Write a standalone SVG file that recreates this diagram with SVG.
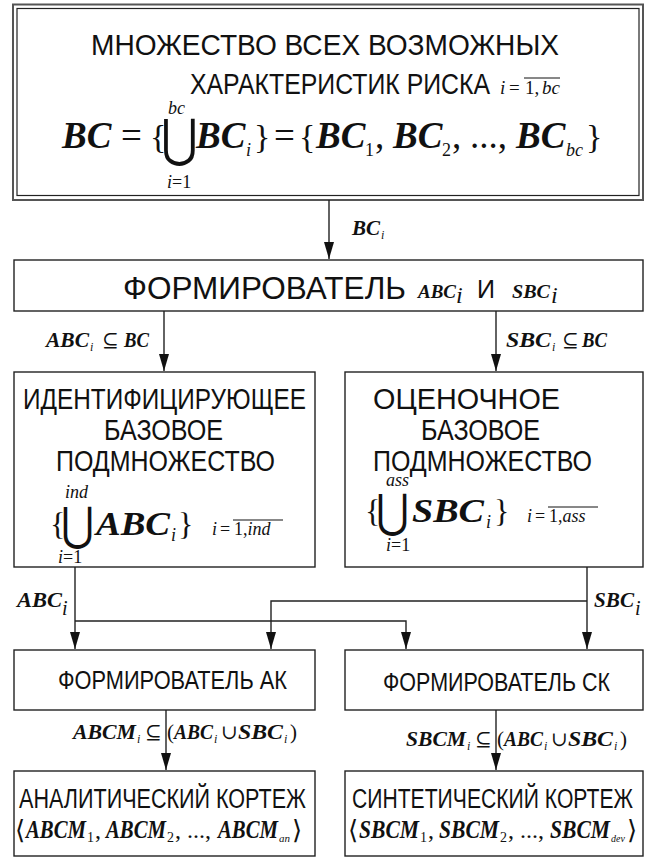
<svg xmlns="http://www.w3.org/2000/svg" width="650" height="861" viewBox="0 0 650 861">
  <style>
    .box { fill: #ffffff; stroke: #222222; stroke-width: 1.4; }
    .outer { fill: #ffffff; stroke: #555555; stroke-width: 2; }
    .inner { fill: none; stroke: #222222; stroke-width: 1.2; }
    .wire { fill: none; stroke: #222222; stroke-width: 1.4; }
    .sans { font-family: "Liberation Sans", Arial, sans-serif; fill: #111111; }
    .m { font-family: "Liberation Serif", "DejaVu Serif", serif; font-weight: bold; font-style: italic; fill: #111111; }
    .mi { font-family: "Liberation Serif", "DejaVu Serif", serif; font-weight: normal; font-style: italic; fill: #111111; }
    .mr { font-family: "Liberation Serif", "DejaVu Serif", serif; font-weight: normal; font-style: normal; fill: #111111; }
    .op { font-family: "DejaVu Serif", "Liberation Serif", serif; font-weight: normal; font-style: normal; fill: #111111; }
    .ovl { stroke: #111111; stroke-width: 1; }
  </style>
  <defs>
    <marker id="head" markerUnits="userSpaceOnUse" markerWidth="18" markerHeight="12" viewBox="0 0 18 12" refX="17" refY="6" orient="auto">
      <path d="M0,1 L17,6 L0,11 Z" fill="#111111"/>
    </marker>
  </defs>

  <!-- Set of all risk characteristics -->
  <g id="all-characteristics">
    <rect class="outer" x="13" y="4.5" width="630" height="195.5"/>
    <rect class="inner" x="17" y="8.5" width="622" height="187"/>
    <text class="sans" x="91" y="55" font-size="29" textLength="468" lengthAdjust="spacingAndGlyphs">МНОЖЕСТВО ВСЕХ ВОЗМОЖНЫХ</text>
    <text class="sans" x="190" y="94" font-size="29" textLength="300" lengthAdjust="spacingAndGlyphs">ХАРАКТЕРИСТИК РИСКА</text>
    <text class="mi" x="500" y="94" font-size="19">i</text>
    <text class="mr" x="509" y="94" font-size="19">=</text>
    <text class="mr" x="525" y="94" font-size="19">1,</text>
    <text class="mi" x="542" y="94" font-size="19">bc</text>
    <line class="ovl" x1="524" y1="78" x2="560" y2="78"/>
    <!-- BC = {U BC_i} = {BC_1, BC_2, ..., BC_bc} -->
    <text class="m" x="62" y="148" font-size="37">BC</text>
    <text class="mr" x="121" y="148" font-size="37">=</text>
    <text class="mr" x="150" y="148" font-size="34">{</text>
    <text class="op" transform="translate(161 156) scale(1.12 1.3)" font-size="40">⋃</text>
    <text class="mi" x="168" y="114" font-size="18">bc</text>
    <text class="mi" x="167" y="188" font-size="18">i<tspan class="mr">=1</tspan></text>
    <text class="m" x="196" y="148" font-size="37">BC</text>
    <text class="mi" x="246" y="156" font-size="18">i</text>
    <text class="mr" x="254" y="148" font-size="34">}</text>
    <text class="mr" x="274" y="148" font-size="37">=</text>
    <text class="mr" x="299" y="148" font-size="34">{</text>
    <text class="m" x="316" y="148" font-size="37">BC</text>
    <text class="mr" x="365" y="156" font-size="18">1</text>
    <text class="mr" x="375" y="148" font-size="37">,</text>
    <text class="m" x="393" y="148" font-size="37">BC</text>
    <text class="mr" x="442" y="156" font-size="18">2</text>
    <text class="mr" x="452" y="148" font-size="37">,</text>
    <text class="mr" x="470" y="148" font-size="37">...,</text>
    <text class="m" x="516" y="148" font-size="37">BC</text>
    <text class="mi" x="566" y="156" font-size="18">bc</text>
    <text class="mr" x="586" y="148" font-size="34">}</text>
  </g>

  <!-- Former of ABC_i and SBC_i -->
  <g id="former">
    <rect class="box" x="14" y="260" width="629" height="51"/>
    <text class="sans" x="123" y="299" font-size="31" textLength="283" lengthAdjust="spacingAndGlyphs">ФОРМИРОВАТЕЛЬ</text>
    <text class="m" x="418" y="298" font-size="18" textLength="38" lengthAdjust="spacingAndGlyphs">ABC</text>
    <text class="mi" x="456" y="303" font-size="24">i</text>
    <text class="sans" x="477" y="298" font-size="25">И</text>
    <text class="m" x="512" y="298" font-size="18" textLength="38" lengthAdjust="spacingAndGlyphs">SBC</text>
    <text class="mi" x="551" y="303" font-size="24">i</text>
  </g>

  <!-- Identifying base subset -->
  <g id="identifying-subset">
    <rect class="box" x="14" y="372" width="301" height="195"/>
    <text class="sans" x="23" y="409" font-size="29" textLength="283" lengthAdjust="spacingAndGlyphs">ИДЕНТИФИЦИРУЮЩЕЕ</text>
    <text class="sans" x="104" y="440" font-size="29" textLength="119" lengthAdjust="spacingAndGlyphs">БАЗОВОЕ</text>
    <text class="sans" x="56" y="471" font-size="29" textLength="219" lengthAdjust="spacingAndGlyphs">ПОДМНОЖЕСТВО</text>
    <text class="mi" x="65" y="498" font-size="18">ind</text>
    <text class="mr" x="50" y="535" font-size="32">{</text>
    <text class="op" transform="translate(61 540) scale(1.05 1.2)" font-size="38">⋃</text>
    <text class="m" x="96" y="535" font-size="34" textLength="74" lengthAdjust="spacingAndGlyphs">ABC</text>
    <text class="mi" x="171" y="541" font-size="18">i</text>
    <text class="mr" x="178" y="535" font-size="32">}</text>
    <text class="mi" x="212" y="535" font-size="18">i</text>
    <text class="mr" x="220" y="535" font-size="18">=</text>
    <text class="mr" x="234" y="535" font-size="18">1,<tspan class="mi">ind</tspan></text>
    <line class="ovl" x1="233" y1="520" x2="283" y2="520"/>
    <text class="mi" x="58" y="563" font-size="18">i<tspan class="mr">=1</tspan></text>
  </g>

  <!-- Assessment base subset -->
  <g id="assessment-subset">
    <rect class="box" x="345" y="372" width="298" height="195"/>
    <text class="sans" x="373" y="409" font-size="29" textLength="187" lengthAdjust="spacingAndGlyphs">ОЦЕНОЧНОЕ</text>
    <text class="sans" x="421" y="440" font-size="29" textLength="119" lengthAdjust="spacingAndGlyphs">БАЗОВОЕ</text>
    <text class="sans" x="373" y="471" font-size="29" textLength="219" lengthAdjust="spacingAndGlyphs">ПОДМНОЖЕСТВО</text>
    <text class="mi" x="386" y="486" font-size="18">ass</text>
    <text class="mr" x="365" y="522" font-size="32">{</text>
    <text class="op" transform="translate(376 527) scale(1.05 1.2)" font-size="38">⋃</text>
    <text class="m" x="412" y="522" font-size="34" textLength="72" lengthAdjust="spacingAndGlyphs">SBC</text>
    <text class="mi" x="486" y="528" font-size="18">i</text>
    <text class="mr" x="494" y="522" font-size="32">}</text>
    <text class="mi" x="527" y="522" font-size="18">i</text>
    <text class="mr" x="535" y="522" font-size="18">=</text>
    <text class="mr" x="549" y="522" font-size="18">1,<tspan class="mi">ass</tspan></text>
    <line class="ovl" x1="548" y1="507" x2="598" y2="507"/>
    <text class="mi" x="386" y="551" font-size="18">i<tspan class="mr">=1</tspan></text>
  </g>

  <!-- Analytic tuple former -->
  <g id="former-ak">
    <rect class="box" x="14" y="650" width="301" height="60"/>
    <text class="sans" x="58" y="689" font-size="25" textLength="229" lengthAdjust="spacingAndGlyphs">ФОРМИРОВАТЕЛЬ АК</text>
  </g>

  <!-- Synthetic tuple former -->
  <g id="former-sk">
    <rect class="box" x="345" y="650" width="298" height="60"/>
    <text class="sans" x="383" y="691" font-size="25" textLength="227" lengthAdjust="spacingAndGlyphs">ФОРМИРОВАТЕЛЬ СК</text>
  </g>

  <!-- Analytic tuple -->
  <g id="analytic-tuple">
    <rect class="box" x="14" y="771" width="301" height="85"/>
    <text class="sans" x="19" y="808" font-size="27" textLength="287" lengthAdjust="spacingAndGlyphs">АНАЛИТИЧЕСКИЙ КОРТЕЖ</text>
    <text class="op" x="15" y="839" font-size="26">⟨</text>
    <text class="m" x="26" y="838" font-size="26" textLength="60" lengthAdjust="spacingAndGlyphs">ABCM</text>
    <text class="mr" x="87" y="842" font-size="14">1</text>
    <text class="mr" x="95" y="838" font-size="24">,</text>
    <text class="m" x="106" y="838" font-size="26" textLength="60" lengthAdjust="spacingAndGlyphs">ABCM</text>
    <text class="mr" x="167" y="842" font-size="14">2</text>
    <text class="mr" x="175" y="838" font-size="24">, ...,</text>
    <text class="m" x="218" y="838" font-size="26" textLength="60" lengthAdjust="spacingAndGlyphs">ABCM</text>
    <text class="mi" x="279" y="842" font-size="11">an</text>
    <text class="op" x="292" y="839" font-size="26">⟩</text>
  </g>

  <!-- Synthetic tuple -->
  <g id="synthetic-tuple">
    <rect class="box" x="345" y="771" width="298" height="85"/>
    <text class="sans" x="352" y="808" font-size="27" textLength="281" lengthAdjust="spacingAndGlyphs">СИНТЕТИЧЕСКИЙ КОРТЕЖ</text>
    <text class="op" x="348" y="839" font-size="26">⟨</text>
    <text class="m" x="359" y="838" font-size="26" textLength="60" lengthAdjust="spacingAndGlyphs">SBCM</text>
    <text class="mr" x="420" y="842" font-size="14">1</text>
    <text class="mr" x="428" y="838" font-size="24">,</text>
    <text class="m" x="439" y="838" font-size="26" textLength="60" lengthAdjust="spacingAndGlyphs">SBCM</text>
    <text class="mr" x="500" y="842" font-size="14">2</text>
    <text class="mr" x="508" y="838" font-size="24">, ...,</text>
    <text class="m" x="550" y="838" font-size="26" textLength="60" lengthAdjust="spacingAndGlyphs">SBCM</text>
    <text class="mi" x="611" y="842" font-size="10">dev</text>
    <text class="op" x="627" y="839" font-size="26">⟩</text>
  </g>

  <!-- Connectors and their labels -->
  <g id="connectors">
    <line class="wire" x1="329" y1="200" x2="329" y2="259" marker-end="url(#head)"/>
    <line class="wire" x1="164" y1="311" x2="164" y2="371" marker-end="url(#head)"/>
    <line class="wire" x1="496" y1="311" x2="496" y2="371" marker-end="url(#head)"/>
    <line class="wire" x1="75" y1="567" x2="75" y2="649" marker-end="url(#head)"/>
    <polyline class="wire" points="75,621 406,621 406,649" marker-end="url(#head)"/>
    <line class="wire" x1="587" y1="567" x2="587" y2="649" marker-end="url(#head)"/>
    <polyline class="wire" points="587,601 271,601 271,649" marker-end="url(#head)"/>
    <line class="wire" x1="166" y1="710" x2="166" y2="770" marker-end="url(#head)"/>
    <line class="wire" x1="496" y1="710" x2="496" y2="770" marker-end="url(#head)"/>

    <text class="m" x="352" y="235" font-size="21">BC</text>
    <text class="mi" x="381" y="239" font-size="12">i</text>

    <text class="m" x="46" y="347" font-size="21" textLength="43" lengthAdjust="spacingAndGlyphs">ABC</text>
    <text class="mi" x="90" y="351" font-size="12">i</text>
    <text class="op" x="102" y="347" font-size="20">⊆</text>
    <text class="m" x="124" y="347" font-size="21" textLength="25" lengthAdjust="spacingAndGlyphs">BC</text>

    <text class="m" x="506" y="347" font-size="21" textLength="45" lengthAdjust="spacingAndGlyphs">SBC</text>
    <text class="mi" x="552" y="351" font-size="12">i</text>
    <text class="op" x="562" y="347" font-size="20">⊆</text>
    <text class="m" x="582" y="347" font-size="21" textLength="25" lengthAdjust="spacingAndGlyphs">BC</text>

    <text class="m" x="17" y="607" font-size="21" textLength="45" lengthAdjust="spacingAndGlyphs">ABC</text>
    <text class="mi" x="62" y="615" font-size="20">i</text>
    <text class="m" x="594" y="607" font-size="21" textLength="40" lengthAdjust="spacingAndGlyphs">SBC</text>
    <text class="mi" x="635" y="615" font-size="20">i</text>

    <text class="m" x="73" y="739" font-size="21" textLength="63" lengthAdjust="spacingAndGlyphs">ABCM</text>
    <text class="mi" x="137" y="743" font-size="12">i</text>
    <text class="op" x="145" y="739" font-size="20">⊆</text>
    <text class="mr" x="167" y="739" font-size="21">(</text>
    <text class="m" x="174" y="739" font-size="21" textLength="39" lengthAdjust="spacingAndGlyphs">ABC</text>
    <text class="mi" x="214" y="743" font-size="12">i</text>
    <text class="op" x="221" y="739" font-size="20">∪</text>
    <text class="m" x="238" y="739" font-size="21" textLength="45" lengthAdjust="spacingAndGlyphs">SBC</text>
    <text class="mi" x="284" y="743" font-size="12">i</text>
    <text class="mr" x="290" y="739" font-size="21">)</text>

    <text class="m" x="406" y="746" font-size="21" textLength="60" lengthAdjust="spacingAndGlyphs">SBCM</text>
    <text class="mi" x="467" y="750" font-size="12">i</text>
    <text class="op" x="475" y="746" font-size="20">⊆</text>
    <text class="mr" x="497" y="746" font-size="21">(</text>
    <text class="m" x="504" y="746" font-size="21" textLength="39" lengthAdjust="spacingAndGlyphs">ABC</text>
    <text class="mi" x="544" y="750" font-size="12">i</text>
    <text class="op" x="551" y="746" font-size="20">∪</text>
    <text class="m" x="568" y="746" font-size="21" textLength="45" lengthAdjust="spacingAndGlyphs">SBC</text>
    <text class="mi" x="614" y="750" font-size="12">i</text>
    <text class="mr" x="620" y="746" font-size="21">)</text>
  </g>
</svg>
